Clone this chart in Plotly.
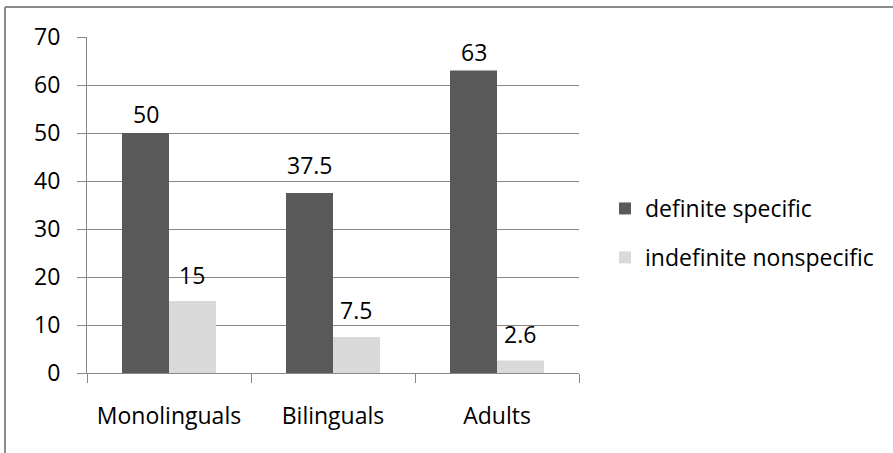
import plotly.graph_objects as go

categories = ["Monolinguals", "Bilinguals", "Adults"]
definite_specific = [50, 37.5, 63]
indefinite_nonspecific = [15, 7.5, 2.6]
definite_labels = ["50", "37.5", "63"]
indefinite_labels = ["15", "7.5", "2.6"]
y_ticks = [0, 10, 20, 30, 40, 50, 60, 70]

# style: label offsets above bar top (px)
definite_label_shift = [19, 28, 19]
indefinite_label_shift = [26, 27, 27]

FONT = "Open Sans"
FS = 23
GRID = "#878787"
DARK = "#595959"
LIGHT = "#D9D9D9"

W, H = 893, 453
ML, MR, MT, MB = 87, 314, 37, 80
plot_w = W - ML - MR
plot_h = H - MT - MB
bargap = 0.427
bar_px = plot_w / len(categories) * (1 - bargap) / 2

fig = go.Figure()
fig.add_trace(go.Bar(name="definite specific", x=categories, y=definite_specific,
                     marker=dict(color=DARK, line=dict(width=0)), legendgroup="a"))
fig.add_trace(go.Bar(name="indefinite nonspecific", x=categories, y=indefinite_nonspecific,
                     marker=dict(color=LIGHT, line=dict(width=0)), legendgroup="b"))

annotations = []
for cat, v, lab, sh in zip(categories, definite_specific, definite_labels, definite_label_shift):
    annotations.append(dict(x=cat, y=v, xref="x", yref="y", text=lab, showarrow=False,
                            xshift=-bar_px / 2, yshift=sh, yanchor="middle",
                            font=dict(family=FONT, size=FS, color="#000000")))
for cat, v, lab, sh in zip(categories, indefinite_nonspecific, indefinite_labels, indefinite_label_shift):
    annotations.append(dict(x=cat, y=v, xref="x", yref="y", text=lab, showarrow=False,
                            xshift=bar_px / 2, yshift=sh, yanchor="middle",
                            font=dict(family=FONT, size=FS, color="#000000")))

# chart border (top and left edges visible)
bx = (5 - ML) / plot_w
by = (H - MB - 7) / plot_h
shapes = [
    dict(type="line", xref="paper", yref="paper", x0=bx, x1=2, y0=by, y1=by,
         line=dict(color="#8C8C8C", width=2), layer="above"),
    dict(type="line", xref="paper", yref="paper", x0=bx, x1=bx, y0=by, y1=-1,
         line=dict(color="#8C8C8C", width=2), layer="above"),
]

fig.update_layout(
    width=W, height=H,
    margin=dict(l=ML, r=MR, t=MT, b=MB, pad=0),
    paper_bgcolor="white", plot_bgcolor="white",
    font=dict(family=FONT, size=FS, color="#000000"),
    barmode="group", bargap=bargap, bargroupgap=0,
    showlegend=True,
    legend=dict(x=(605 - ML) / plot_w, xanchor="left", y=(H - MB - 233) / plot_h, yanchor="middle",
                font=dict(family=FONT, size=FS, color="#000000"),
                tracegroupgap=16, traceorder="grouped", bgcolor="rgba(0,0,0,0)"),
    annotations=annotations,
    shapes=shapes,
    xaxis=dict(showline=True, linecolor=GRID, linewidth=1, ticks="outside", tickson="boundaries",
               ticklen=9, tickcolor=GRID, tickwidth=1, showgrid=False,
               ticklabelstandoff=22, tickfont=dict(family=FONT, size=FS)),
    yaxis=dict(range=[0, 70], tickvals=y_ticks, showline=True, linecolor=GRID, linewidth=1,
               ticks="outside", ticklen=9, tickcolor=GRID, tickwidth=1,
               showgrid=True, gridcolor=GRID, gridwidth=1, zeroline=False,
               ticklabelstandoff=12, tickfont=dict(family=FONT, size=FS)),
)

fig.write_html("out.html")
